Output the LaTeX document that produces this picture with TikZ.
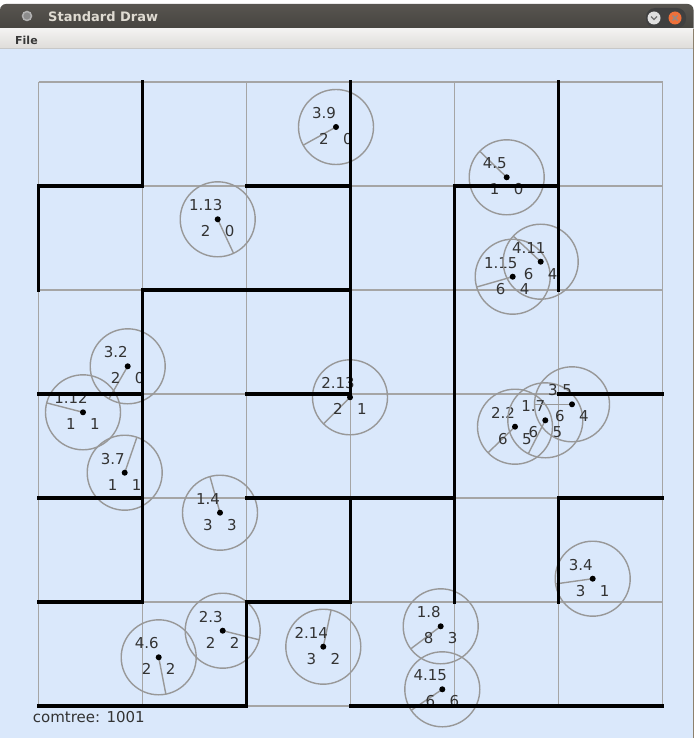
\documentclass[tikz,border=0pt]{standalone}
\usepackage{fontspec}
\setmainfont{DejaVu Sans}
\usetikzlibrary{positioning,calc}
\definecolor{canvas}{RGB}{218,232,251}
\definecolor{gridgray}{RGB}{165,165,165}
\definecolor{ringgray}{RGB}{152,152,152}
\definecolor{barTop}{RGB}{88,85,80}
\definecolor{barBot}{RGB}{62,60,56}
\definecolor{menuTop}{RGB}{243,242,241}
\definecolor{menuBot}{RGB}{222,220,217}
\definecolor{frameln}{RGB}{140,128,108}
\definecolor{ttltext}{RGB}{223,219,210}
\definecolor{closeor}{RGB}{238,112,58}
\tikzset{
  gridln/.style={line width=1.4pt,gridgray},
  wall/.style={line width=3.2pt,black,line cap=rect,line join=miter},
  ring/.style={line width=1.4pt,ringgray},
  hdg/.style={line width=1.4pt,ringgray},
  hub/.style={circle,fill=black,inner sep=0pt,minimum size=6pt},
  lbl/.style={font=\fontsize{15}{18}\selectfont,text=black!80,inner sep=0pt},
  % ---- window decoration ----
  btn/.style={circle,inner sep=0pt,minimum size=13pt},
}

\begin{document}
\begin{tikzpicture}[x=1pt,y=-1pt]
  \useasboundingbox (0,0) rectangle (699,738);
  % window frame
  \fill[white] (0,0) rectangle (699,738);
  \shade[top color=barTop,bottom color=barBot,rounded corners=6pt] (0,4) rectangle (693.5,40);
  \shade[top color=menuTop,bottom color=menuBot] (0,29) rectangle (693.5,48.5);
  \fill[canvas] (0,48.5) rectangle (693.5,738);
  \draw[black!22,line width=1pt] (0,48.5) -- (693.5,48.5);
  \draw[frameln,line width=1pt] (693.5,29) -- (693.5,738);
  % title bar
  \node[circle,fill=black!45,draw=black!30,line width=1.5pt,inner sep=0pt,minimum size=9pt] (ico) at (27,16) {};
  \node[font=\bfseries\fontsize{13}{15}\selectfont,text=ttltext,anchor=west,inner sep=0pt]
    (ttl) at (48,16.5) {Standard Draw};
  \fill[black!75,rounded corners=9pt] (646,8) rectangle (686,28);
  \node[btn,fill=black!12] (mini) at (654,18) {};
  \node[btn,fill=closeor] (cls) at (675,18) {};
  \draw[black!55,line width=1.2pt] ($(mini)+(-3,-1.5)$) -- ($(mini)+(0,1.5)$) -- ($(mini)+(3,-1.5)$);
  \draw[black!45,line width=1.1pt] ($(cls)+(-2.5,-2.5)$) -- ($(cls)+(2.5,2.5)$)
    ($(cls)+(-2.5,2.5)$) -- ($(cls)+(2.5,-2.5)$);
  % menu bar
  \node[font=\bfseries\fontsize{11}{13}\selectfont,text=black!78,anchor=west,inner sep=0pt]
    (menu) at (15,40) {File};
  % grid
  \begin{scope}[shift={(38.5,82)},x=104pt,y=-104pt]
    \foreach \i in {0,...,6}{
      \draw[gridln] (\i,0) -- (\i,6);
      \draw[gridln] (0,\i) -- (6,\i);}
  \end{scope}
  % robots: centre / heading / id / two counts
  \foreach \cx/\cy/\ang/\rid/\na/\nb [count=\k] in {
      336/127/151/3.9/2/0, 217.7/219.3/65/1.13/2/0, 506.7/177.3/224/4.5/1/0,
      512.7/276.7/164/1.15/6/4, 540.7/261.7/223/4.11/6/4, 127.7/366.3/120/3.2/2/0,
      83/412.3/194.5/1.12/1/1, 124.7/472.7/289/3.7/1/1, 350/397.3/135/2.13/2/1,
      220/512.7/254.5/1.4/3/3, 515/426.7/136/2.2/6/5, 545.3/420.3/117/1.7/6/5,
      572/404.3/180/3.5/6/4, 592.7/578.7/172/3.4/3/1, 440.7/626.3/143/1.8/8/3,
      442.3/689.3/146/4.15/6/6, 222.7/630.7/14/2.3/2/2, 158.7/657.3/79/4.6/2/2,
      323.3/646.7/282/2.14/3/2}{
    \coordinate (c\k) at (\cx,\cy);
    \draw[ring] (c\k) circle (37.5pt);
    \draw[hdg] (c\k) -- ++(\ang:37.5);
    \node[hub] (d\k) at (c\k) {};
    \node[lbl] (id\k) at ($(c\k)+(-12,-14)$) {\rid};
    \node[lbl] (na\k) at ($(c\k)+(-12,12)$) {\na};
    \node[lbl] (nb\k) at ($(c\k)+(12,12)$) {\nb};
  }
  % walls
  \begin{scope}[shift={(38.5,82)},x=104pt,y=-104pt]
    \draw[wall] (1,0) -- (1,1) -- (0,1) -- (0,2);
    \draw[wall] (2,1) -- (3,1);
    \draw[wall] (3,0) -- (3,3) -- (2,3);
    \draw[wall] (0,5) -- (1,5) -- (1,2) -- (3,2);
    \draw[wall] (0,3) -- (1,3);
    \draw[wall] (5,3) -- (6,3);
    \draw[wall] (0,4) -- (1,4);
    \draw[wall] (2,4) -- (4,4);
    \draw[wall] (3,4) -- (3,5) -- (2,5) -- (2,6) -- (0,6);
    \draw[wall] (3,6) -- (6,6);
    \draw[wall] (4,5) -- (4,1) -- (5,1);
    \draw[wall] (5,0) -- (5,2);
    \draw[wall] (5,5) -- (5,4) -- (6,4);
  \end{scope}
  \node[lbl,anchor=west] (ct) at (32.7,717) {comtree: 1001};
\end{tikzpicture}
\end{document}
